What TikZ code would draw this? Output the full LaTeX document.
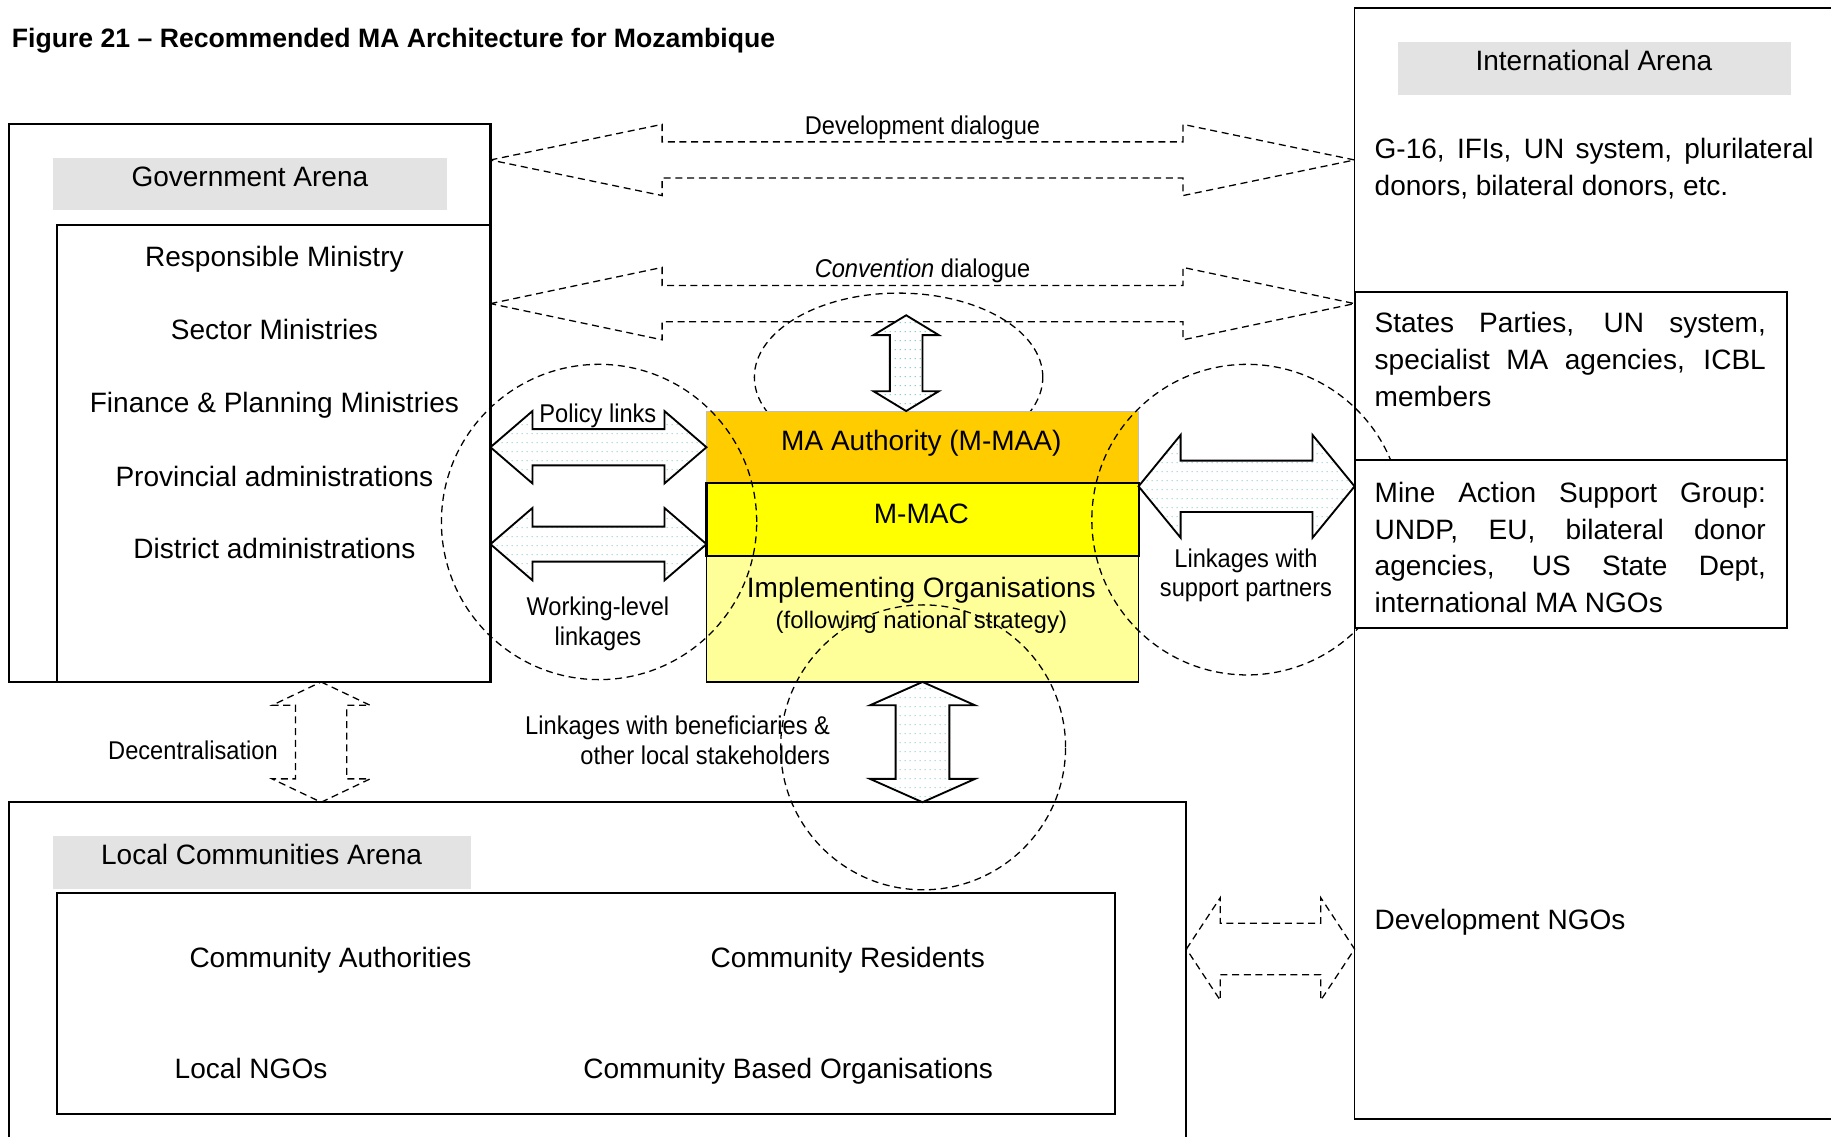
\documentclass[tikz,border=0pt]{standalone}
\usepackage{fontspec}
\setmainfont{Liberation Sans}
\newfontfamily\labelfont{Liberation Sans}[FakeStretch=0.92]
\usetikzlibrary{calc,patterns}

\hyphenpenalty=10000
\exhyphenpenalty=10000
\tolerance=10000

\definecolor{arenagrey}{RGB}{227,227,227}
\definecolor{maaorange}{RGB}{255,204,0}
\definecolor{macyellow}{RGB}{255,255,0}
\definecolor{implyellow}{RGB}{255,255,153}
\definecolor{dotteal}{RGB}{140,205,205}

\pgfdeclarepatternformonly{arrowdots}{\pgfpointorigin}{\pgfqpoint{4pt}{8pt}}{\pgfqpoint{4pt}{8pt}}{%
  \pgfpathrectangle{\pgfqpoint{1.5pt}{3.5pt}}{\pgfqpoint{1pt}{1pt}}\pgfusepath{fill}}

% double-headed block arrow: [style]{tip a}{tip b}{head length}{head half width}{shaft half width}
\newcommand{\blockarrow}[6][]{%
  \draw[#1] (#2)
    -- ($(#2)!#4!(#3)!#5!90:(#3)$) -- ($(#2)!#4!(#3)!#6!90:(#3)$)
    -- ($(#3)!#4!(#2)!#6!-90:(#2)$) -- ($(#3)!#4!(#2)!#5!-90:(#2)$)
    -- (#3)
    -- ($(#3)!#4!(#2)!#5!90:(#2)$) -- ($(#3)!#4!(#2)!#6!90:(#2)$)
    -- ($(#2)!#4!(#3)!#6!-90:(#3)$) -- ($(#2)!#4!(#3)!#5!-90:(#3)$)
    -- cycle;}

\tikzset{
  box/.style={draw, line width=1.8pt, inner sep=0pt, outer sep=0pt, anchor=north west},
  arena/.style={fill=arenagrey, inner sep=0pt, outer sep=0pt, anchor=north west},
  ring/.style={line width=1.1pt, dash pattern=on 6pt off 4pt},
  dotarrow/.style={line width=1.6pt, preaction={fill=white}, pattern=arrowdots, pattern color=dotteal},
  dasharrow/.style={line width=1.1pt, dash pattern=on 6pt off 4pt},
  boxtext/.style={font=\fontsize{24}{31.5}\selectfont, inner sep=0pt, anchor=base},
  linktext/.style={font=\labelfont\fontsize{22}{26}\selectfont, inner sep=0pt, anchor=base},
  para/.style={font=\fontsize{24}{31.5}\selectfont, align=justify, text width=335pt,
    inner sep=0pt, anchor=north west}
}

\begin{document}
\begin{tikzpicture}[x=1pt, y=-1pt]
  \useasboundingbox (0,0) rectangle (1568,973);

  \node[anchor=base west, inner sep=0pt, font=\bfseries\fontsize{22.8}{26}\selectfont] (title) at (10,41)
    {Figure 21 – Recommended MA Architecture for Mozambique};

  % Government Arena
  \node[box, minimum width=412pt, minimum height=478pt] (gov) at (8,106) {};
  \node[box, minimum width=371pt, minimum height=391pt] (govin) at (49,193) {};
  \node[arena, minimum width=338pt, minimum height=45pt] (govlab) at (45,135) {};
  \node[boxtext] (govname) at (214,159.6) {Government Arena};
  \node[boxtext] (respmin) at (235,228.4) {Responsible Ministry};
  \node[boxtext] (sectmin) at (235,290.6) {Sector Ministries};
  \node[boxtext] (finmin) at (235,353.6) {Finance \& Planning Ministries};
  \node[boxtext] (provadm) at (235,416.6) {Provincial administrations};
  \node[boxtext] (distadm) at (235,478.6) {District administrations};

  % International Arena
  \node[box, line width=1.5pt, minimum width=420pt, minimum height=951pt] (intl) at (1160,7) {};
  \node[arena, minimum width=337pt, minimum height=45pt] (intllab) at (1197,36) {};
  \node[boxtext] (intlname) at (1365,60.6) {International Arena};
  \node[para, text width=376pt] (donors) at (1177,113.5)
    {\strut G-16, IFIs, UN system, plurilateral donors, bilateral donors, etc.};
  \node[box, minimum width=370pt, minimum height=144pt] (states) at (1160,250) {};
  \node[para] (statestext) at (1177,262.5)
    {\strut States Parties, UN system, specialist MA agencies, ICBL members};
  \node[boxtext, anchor=base west] (devngo) at (1177,795.6) {Development NGOs};

  % Local Communities Arena
  \node[box, minimum width=1008pt, minimum height=320pt] (local) at (8,687) {};
  \node[arena, minimum width=358pt, minimum height=45pt] (locallab) at (45,716) {};
  \node[boxtext] (localname) at (224,740.6) {Local Communities Arena};
  \node[box, minimum width=906pt, minimum height=189pt] (localin) at (49,765) {};
  \node[boxtext] (commauth) at (283,828.6) {Community Authorities};
  \node[boxtext] (commres) at (726,828.6) {Community Residents};
  \node[boxtext] (localngo) at (215,923.6) {Local NGOs};
  \node[boxtext] (cbo) at (675,923.6) {Community Based Organisations};

  % ring behind the MA stack
  \draw[ring] (769.5,323) ellipse [x radius=123.5pt, y radius=72pt];

  % MA stack
  \node[box, draw=gray!50, line width=0.6pt, fill=maaorange, minimum width=370pt, minimum height=62pt] (maa) at (605,352) {};
  \node[box, line width=1.5pt, fill=implyellow, minimum width=370pt, minimum height=108pt] (impl) at (605,476) {};
  \node[box, fill=macyellow, minimum width=370pt, minimum height=62pt] (mmac) at (605,414) {};
  \node[boxtext] (maaname) at (789,385.6) {MA Authority (M-MAA)};
  \node[boxtext] (mmacname) at (789,448.6) {M-MAC};
  \node[boxtext] (implname) at (789,511.6) {Implementing Organisations};
  \node[boxtext, font=\fontsize{20.5}{24}\selectfont] (implnote) at (789,538) {(following national strategy)};

  % rings over the boxes
  \draw[ring] (513,447) circle [radius=135pt];
  \draw[ring] (1068,445) circle [radius=133pt];
  \draw[ring] (790.5,640) circle [radius=122pt];

  \node[box, fill=white, minimum width=370pt, minimum height=144pt] (masg) at (1160,394) {};
  \node[para] (masgtext) at (1177,408)
    {\strut Mine Action Support Group: UNDP, EU, bilateral donor agencies, US State Dept, international MA NGOs};

  % dialogue arrows
  \coordinate (dev-w) at (gov.east |- 0,137);
  \coordinate (dev-e) at (intl.west |- 0,137);
  \blockarrow[dasharrow]{dev-w}{dev-e}{147pt}{30.5pt}{15.5pt}
  \node[linktext] (devlab) at (790,115.3) {Development dialogue};

  \coordinate (conv-w) at (gov.east |- 0,260);
  \coordinate (conv-e) at (intl.west |- 0,260);
  \blockarrow[dasharrow]{conv-w}{conv-e}{147pt}{31pt}{15.5pt}
  \node[linktext] (convlab) at (790,238) {\textit{Convention} dialogue};

  % links to the MA stack
  \coordinate (pol-w) at (gov.east |- maa.west);
  \blockarrow[dotarrow]{pol-w}{maa.west}{36pt}{31pt}{15.5pt}
  \node[linktext] (pollab) at (512,362) {Policy links};

  \coordinate (wl-w) at (gov.east |- 0,466);
  \coordinate (wl-e) at (mmac.west |- 0,466);
  \blockarrow[dotarrow]{wl-w}{wl-e}{36pt}{31pt}{15pt}
  \node[linktext] (wllab1) at (512,527) {Working-level};
  \node[linktext] (wllab2) at (512,553) {linkages};

  \coordinate (top-s) at (maa.north -| 776,0);
  \coordinate (top-n) at (776,270);
  \blockarrow[dotarrow]{top-s}{top-n}{17pt}{28pt}{14pt}

  \coordinate (sup-w) at (maa.east |- 0,416.5);
  \coordinate (sup-e) at (intl.west |- 0,416.5);
  \blockarrow[dotarrow]{sup-w}{sup-e}{36pt}{44pt}{22pt}
  \node[linktext] (suplab1) at (1067,486) {Linkages with};
  \node[linktext] (suplab2) at (1067,511) {support partners};

  \coordinate (ben-s) at (local.north -| impl.south);
  \blockarrow[dotarrow]{impl.south}{ben-s}{20pt}{45pt}{23pt}
  \node[linktext, anchor=base east] (benlab1) at (711,629) {Linkages with beneficiaries \&};
  \node[linktext, anchor=base east] (benlab2) at (711,655) {other local stakeholders};

  % decentralisation and NGO links
  \coordinate (dec-n) at (gov.south -| 275,0);
  \coordinate (dec-s) at (local.north -| 275,0);
  \blockarrow[dasharrow]{dec-n}{dec-s}{20pt}{42pt}{22pt}
  \node[linktext, anchor=base east] (declab) at (238,650) {Decentralisation};

  \coordinate (ngo-w) at (local.east |- 0,812.7);
  \coordinate (ngo-e) at (intl.west |- 0,812.7);
  \blockarrow[dasharrow]{ngo-w}{ngo-e}{29pt}{44pt}{22pt}
\end{tikzpicture}
\end{document}
